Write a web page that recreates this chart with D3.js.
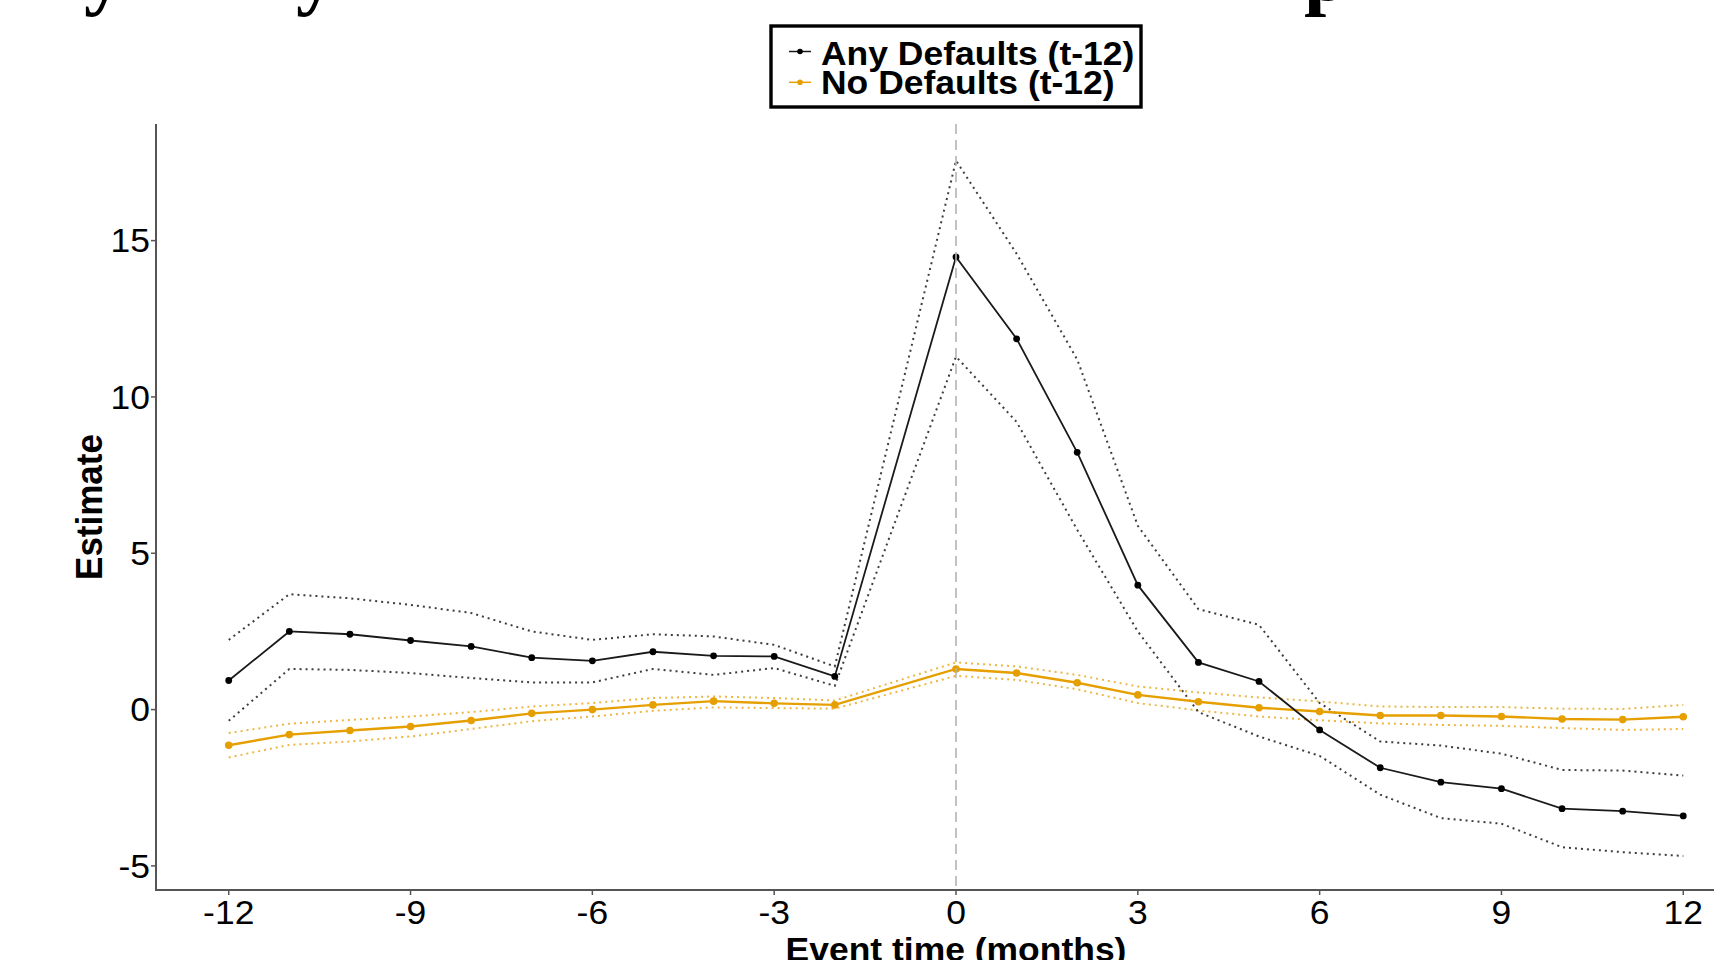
<!DOCTYPE html>
<html>
<head>
<meta charset="utf-8">
<script src="https://cdn.jsdelivr.net/npm/d3@7"></script>
<style>
  html, body { margin: 0; padding: 0; background: #ffffff; }
  svg { display: block; }
</style>
</head>
<body>
<svg id="chart" width="1714" height="960"></svg>
<script>
// ---------------- data ----------------
const months = [-12,-11,-10,-9,-8,-7,-6,-5,-4,-3,-2,0,1,2,3,4,5,6,7,8,9,10,11,12];
const anyEst = [0.93,2.50,2.41,2.21,2.02,1.66,1.56,1.85,1.72,1.70,1.06,14.48,11.86,8.23,3.98,1.51,0.90,-0.65,-1.86,-2.32,-2.53,-3.17,-3.25,-3.40];
const anyHi  = [2.23,3.69,3.56,3.35,3.09,2.50,2.23,2.41,2.34,2.07,1.38,17.56,14.58,11.20,5.88,3.21,2.71,0.21,-1.02,-1.15,-1.41,-1.93,-1.95,-2.11];
const anyLo  = [-0.36,1.30,1.27,1.17,1.01,0.87,0.87,1.30,1.11,1.33,0.76,11.29,9.20,5.75,2.50,-0.08,-0.86,-1.48,-2.72,-3.47,-3.65,-4.40,-4.56,-4.68];
const noEst  = [-1.14,-0.80,-0.67,-0.54,-0.35,-0.12,0.00,0.15,0.27,0.20,0.15,1.30,1.17,0.86,0.47,0.25,0.06,-0.06,-0.19,-0.19,-0.22,-0.30,-0.32,-0.23];
const noHi   = [-0.75,-0.45,-0.33,-0.22,-0.08,0.10,0.21,0.37,0.42,0.37,0.29,1.51,1.38,1.11,0.74,0.55,0.39,0.26,0.10,0.08,0.08,0.03,0.02,0.15];
const noLo   = [-1.53,-1.13,-1.02,-0.86,-0.62,-0.37,-0.22,-0.04,0.07,0.05,0.03,1.08,0.95,0.65,0.21,-0.03,-0.22,-0.34,-0.44,-0.49,-0.52,-0.59,-0.65,-0.62];
const seriesNames = ["Any Defaults (t-12)", "No Defaults (t-12)"];
const xTicks = [-12,-9,-6,-3,0,3,6,9,12];
const yTicks = [-5,0,5,10,15];
const eventMonth = 0;
const xTitle = "Event time (months)";
const yTitle = "Estimate";
const titleGlyphs = ["y","y","p"];   // only descenders of the slide title are visible

// ---------------- layout ----------------
const svg = d3.select("#chart");
const W = 1714, H = 960;
const panel = {left: 156, right: 1756, top: 124, bottom: 890};
const SX = 1.075; // horizontal stretch of text in reference
const FONT = "'Liberation Sans', Arial, Helvetica, sans-serif";
const colAny = "#1a1a1a", colNo = "#E69F00";

svg.append("rect").attr("width", W).attr("height", H).attr("fill", "#fff");

const x = d3.scaleLinear().domain([-13.2, 13.2]).range([panel.left, panel.right]);
const y = d3.scaleLinear().domain([-5.77, 18.73]).range([panel.bottom, panel.top]);

function stretchedText(g, tx, ty, str, opts) {
  const t = g.append("text")
    .attr("transform", `translate(${tx},${ty}) scale(${SX},1)` + (opts.rotate ? ` rotate(${opts.rotate})` : ""))
    .attr("font-family", opts.family || FONT)
    .attr("font-size", opts.size)
    .attr("font-weight", opts.weight || "normal")
    .attr("text-anchor", opts.anchor || "start")
    .attr("fill", opts.fill || "#000")
    .text(str);
  if (opts.baseline) t.attr("dominant-baseline", opts.baseline);
  return t;
}

// ---------------- title remnants (cropped) ----------------
const titleX = [84, 296, 1304];
titleGlyphs.forEach((c, i) => {
  svg.append("text")
    .attr("x", titleX[i]).attr("y", 0)
    .attr("font-family", "'Liberation Serif', 'DejaVu Serif', serif")
    .attr("font-weight", "bold")
    .attr("font-size", 80)
    .attr("fill", "#000")
    .text(c);
});

// ---------------- data series ----------------
const dataAny = months.map((m, i) => ({m, est: anyEst[i], hi: anyHi[i], lo: anyLo[i]}));
const dataNo  = months.map((m, i) => ({m, est: noEst[i], hi: noHi[i], lo: noLo[i]}));

const plot = svg.append("g");
const lineOf = key => d3.line().x(d => x(d.m)).y(d => y(d[key]));

// CI dotted lines
[[dataNo, colNo, 0.75], [dataAny, "#333", 0.95]].forEach(([data, col, op]) => {
  ["hi", "lo"].forEach(k => {
    plot.append("path").datum(data)
      .attr("d", lineOf(k))
      .attr("fill", "none")
      .attr("stroke", col)
      .attr("stroke-opacity", op)
      .attr("stroke-width", 2)
      .attr("stroke-linecap", "butt")
      .attr("stroke-dasharray", "2,4");
  });
});

// main lines
plot.append("path").datum(dataNo).attr("d", lineOf("est"))
  .attr("fill", "none").attr("stroke", colNo).attr("stroke-width", 2.4);
plot.append("path").datum(dataAny).attr("d", lineOf("est"))
  .attr("fill", "none").attr("stroke", colAny).attr("stroke-width", 1.8);

// points
plot.selectAll(".ptNo").data(dataNo).enter().append("circle")
  .attr("cx", d => x(d.m)).attr("cy", d => y(d.est)).attr("r", 3.8).attr("fill", colNo);
plot.selectAll(".ptAny").data(dataAny).enter().append("circle")
  .attr("cx", d => x(d.m)).attr("cy", d => y(d.est)).attr("r", 3.4).attr("fill", "#000");

// event vline
plot.append("line")
  .attr("x1", x(eventMonth)).attr("x2", x(eventMonth))
  .attr("y1", panel.top).attr("y2", panel.bottom)
  .attr("stroke", "#b3b3b3").attr("stroke-width", 1.6)
  .attr("stroke-dasharray", "10,6");

// ---------------- axes ----------------
const axisCol = "#555";
svg.append("line").attr("x1", panel.left).attr("x2", panel.left)
  .attr("y1", panel.top).attr("y2", panel.bottom + 1)
  .attr("stroke", axisCol).attr("stroke-width", 2);
svg.append("line").attr("x1", panel.left - 1).attr("x2", panel.right)
  .attr("y1", panel.bottom).attr("y2", panel.bottom)
  .attr("stroke", axisCol).attr("stroke-width", 2);

const ax = svg.append("g");
xTicks.forEach(t => {
  ax.append("line").attr("x1", x(t)).attr("x2", x(t))
    .attr("y1", panel.bottom).attr("y2", panel.bottom + 5)
    .attr("stroke", axisCol).attr("stroke-width", 1.5);
  stretchedText(ax, x(t), 923.5, String(t), {size: 33, anchor: "middle"});
});
yTicks.forEach(t => {
  ax.append("line").attr("x1", panel.left - 5).attr("x2", panel.left)
    .attr("y1", y(t)).attr("y2", y(t))
    .attr("stroke", axisCol).attr("stroke-width", 1.5);
  stretchedText(ax, 150, y(t) + 11.8, String(t), {size: 33, anchor: "end"});
});

// axis titles
stretchedText(svg, (panel.left + panel.right) / 2, 961, xTitle, {size: 33, weight: "bold", anchor: "middle"});
svg.append("text")
  .attr("transform", `translate(102,${(panel.top + panel.bottom) / 2}) rotate(-90) scale(1,${SX})`)
  .attr("font-family", FONT).attr("font-size", 35).attr("font-weight", "bold")
  .attr("text-anchor", "middle").attr("fill", "#000")
  .text(yTitle);

// ---------------- legend ----------------
const lg = svg.append("g");
lg.append("rect").attr("x", 771).attr("y", 26).attr("width", 370).attr("height", 81)
  .attr("fill", "#fff").attr("stroke", "#000").attr("stroke-width", 3.4);
const legendItems = [
  {name: seriesNames[0], col: colAny, dot: "#000", ky: 51.5, ty: 64.7},
  {name: seriesNames[1], col: colNo, dot: colNo, ky: 82.3, ty: 94}
];
legendItems.forEach(it => {
  lg.append("line").attr("x1", 789).attr("x2", 811).attr("y1", it.ky).attr("y2", it.ky)
    .attr("stroke", it.col).attr("stroke-width", 1.5);
  lg.append("circle").attr("cx", 800).attr("cy", it.ky).attr("r", 2.8).attr("fill", it.dot);
  stretchedText(lg, 821, it.ty, it.name, {size: 33, weight: "bold"});
});
</script>
</body>
</html>
